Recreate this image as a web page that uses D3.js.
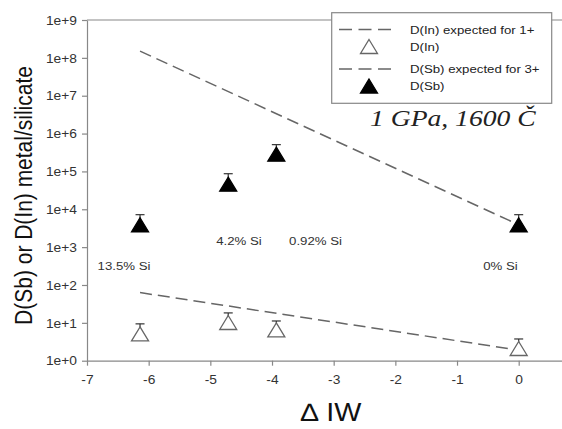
<!DOCTYPE html>
<html>
<head>
<meta charset="utf-8">
<script src="https://cdn.jsdelivr.net/npm/d3@7"></script>
<style>
  body { margin: 0; background: #fff; }
  text { font-family: Arial, "Liberation Sans", sans-serif; }
</style>
</head>
<body>
<div id="chart"></div>
<script>
// delta IW of each run
var dIW = [-6.14, -4.71, -3.93, 0];
// D(Sb) measured + upper error
var dSb = [3900, 46000, 285000, 3900];
var dSbHi = [7200, 87000, 510000, 7200];
// D(In) measured + upper error
var dIn = [5.1, 10.2, 6.5, 2.1];
var dInHi = [9.4, 18.3, 11.2, 3.75];
// expected trends (end points)
var expX = [-6.14, 0];
var sbExpected = [1.5e8, 3900];
var inExpected = [63, 1.9];
var siLabels = ['13.5% Si', '4.2% Si', '0.92% Si', '0% Si'];
var xTicks = [-7, -6, -5, -4, -3, -2, -1, 0];
var yTicks = [1, 10, 100, 1e3, 1e4, 1e5, 1e6, 1e7, 1e8, 1e9];

var width = 562, height = 429;
var sx = 1.15; // text in the original looks stretched sideways

var svg = d3.select('#chart').append('svg')
    .attr('width', width)
    .attr('height', height);

var xScale = d3.scaleLinear()
    .domain([-7, 0.9])
    .range([87, 87 + 7.9 * 61.67]);
var yScale = d3.scaleLog()
    .domain([1, 1e9])
    .range([360.7, 20]);

var axisColor = '#888';

function stretchText(sel, x, y) {
    sel.attr('transform', 'translate(' + x + ',' + y + ') scale(' + sx + ',1)');
}

// axes
var xAxis = d3.axisBottom(xScale).tickValues(xTicks).tickSizeInner(5).tickSizeOuter(0).tickFormat(d => String(d));
var yAxis = d3.axisLeft(yScale).tickValues(yTicks).tickSizeInner(5).tickSizeOuter(0)
    .tickFormat(d => '1e+' + Math.round(Math.log10(d)));

var gx = svg.append('g')
    .attr('transform', 'translate(0,' + yScale(1) + ')')
    .call(xAxis);
var gy = svg.append('g')
    .attr('transform', 'translate(' + xScale(-7) + ',0)')
    .call(yAxis);

[gx, gy].forEach(g => {
    g.selectAll('path, line').attr('stroke', axisColor).attr('stroke-width', 1.2);
    g.selectAll('text').attr('fill', '#333').style('font-size', '12px');
});
gx.selectAll('.tick text').attr('dy', null).attr('y', 0).each(function(d) {
    stretchText(d3.select(this).attr('text-anchor', 'middle'), 0, 23);
});
gy.selectAll('.tick text').attr('dy', '0.35em').attr('x', 0).each(function(d) {
    stretchText(d3.select(this).attr('text-anchor', 'end'), -10, 0);
});

// top frame line
svg.append('line')
    .attr('x1', xScale(-7)).attr('x2', width)
    .attr('y1', yScale(1e9)).attr('y2', yScale(1e9))
    .attr('stroke', axisColor).attr('stroke-width', 1.2);

// expected lines
var line = d3.line().x(d => xScale(d[0])).y(d => yScale(d[1]));
[sbExpected, inExpected].forEach(vals => {
    svg.append('path')
        .datum(expX.map((x, i) => [x, vals[i]]))
        .attr('d', line)
        .attr('fill', 'none')
        .attr('stroke', '#666')
        .attr('stroke-width', 1.5)
        .attr('stroke-dasharray', '12,6');
});

function triangle(w, h) {
    return 'M0,' + (-h / 2) + 'L' + (w / 2) + ',' + (h / 2) + 'L' + (-w / 2) + ',' + (h / 2) + 'Z';
}

function drawSeries(vals, hi, filled) {
    var pts = dIW.map((x, i) => ({x: x, v: vals[i], hi: hi[i]}));
    var g = svg.append('g');
    g.selectAll('.err').data(pts).enter().append('line')
        .attr('x1', d => xScale(d.x)).attr('x2', d => xScale(d.x))
        .attr('y1', d => yScale(d.v)).attr('y2', d => yScale(d.hi))
        .attr('stroke', '#333').attr('stroke-width', 1.2);
    g.selectAll('.cap').data(pts).enter().append('line')
        .attr('x1', d => xScale(d.x) - 4.5).attr('x2', d => xScale(d.x) + 4.5)
        .attr('y1', d => yScale(d.hi)).attr('y2', d => yScale(d.hi))
        .attr('stroke', '#333').attr('stroke-width', 1.2);
    g.selectAll('.mark').data(pts).enter().append('path')
        .attr('d', triangle(17, 14))
        .attr('transform', d => 'translate(' + xScale(d.x) + ',' + yScale(d.v) + ')')
        .attr('fill', filled ? '#000' : '#fff')
        .attr('stroke', filled ? '#000' : '#666')
        .attr('stroke-width', 1.3);
}
drawSeries(dIn, dInHi, false);
drawSeries(dSb, dSbHi, true);

// Si content labels
var lblPos = [[124, 269.5], [239, 244.5], [315.5, 244.5], [500.5, 269.5]];
siLabels.forEach((t, i) => {
    svg.append('text')
        .text(t)
        .attr('text-anchor', 'middle')
        .attr('fill', '#333')
        .style('font-size', '11.5px')
        .call(stretchText, lblPos[i][0], lblPos[i][1]);
});

// legend
var lg = svg.append('g');
lg.append('rect')
    .attr('x', 331.7).attr('y', 12.7).attr('width', 220).attr('height', 90.6)
    .attr('fill', '#fff').attr('stroke', axisColor).attr('stroke-width', 1.2);
var legendItems = [
    {label: 'D(In) expected for 1+', type: 'line', y: 29.5},
    {label: 'D(In)', type: 'open', y: 46.5},
    {label: 'D(Sb) expected for 3+', type: 'line', y: 69},
    {label: 'D(Sb)', type: 'filled', y: 86}
];
legendItems.forEach(it => {
    if (it.type == 'line') {
        lg.append('line')
            .attr('x1', 339).attr('x2', 391)
            .attr('y1', it.y).attr('y2', it.y)
            .attr('stroke', '#666').attr('stroke-width', 1.5)
            .attr('stroke-dasharray', '13,6.5');
    } else {
        lg.append('path')
            .attr('d', triangle(17, 14))
            .attr('transform', 'translate(369,' + it.y + ')')
            .attr('fill', it.type == 'filled' ? '#000' : '#fff')
            .attr('stroke', it.type == 'filled' ? '#000' : '#666')
            .attr('stroke-width', 1.3);
    }
    lg.append('text')
        .text(it.label)
        .attr('dy', '0.35em')
        .attr('fill', '#222')
        .style('font-size', '11.5px')
        .call(stretchText, 410, it.y);
});

// condition title
svg.append('text')
    .text('1 GPa, 1600 Č')
    .style('font-family', '"Liberation Serif", "Times New Roman", serif')
    .style('font-style', 'italic')
    .style('font-size', '24px')
    .attr('fill', '#222')
    .call(stretchText, 370, 126);

// axis titles
svg.append('text')
    .text('\u2206 IW')
    .attr('text-anchor', 'middle')
    .style('font-size', '25px')
    .attr('fill', '#111')
    .attr('transform', 'translate(331,421) scale(' + sx + ',1)');

svg.append('text')
    .text('D(Sb) or D(In) metal/silicate')
    .attr('text-anchor', 'middle')
    .style('font-size', '21px')
    .attr('fill', '#111')
    .attr('transform', 'translate(32,195.5) rotate(-90) scale(1,' + sx + ')');
</script>
</body>
</html>
